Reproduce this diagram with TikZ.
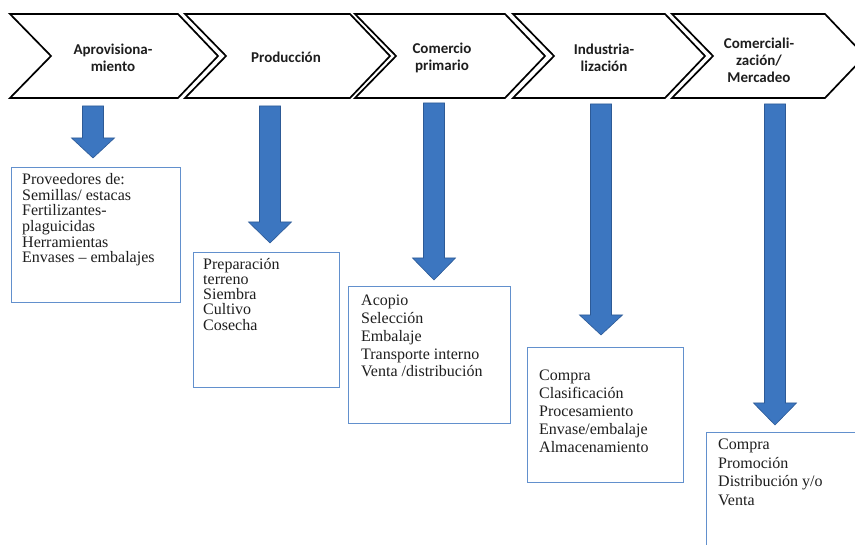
\documentclass[tikz,border=0pt]{standalone}
\usepackage{fontspec}
\setmainfont{Liberation Serif}
\newfontfamily\lblfont{Carlito}
\definecolor{arrowblue}{RGB}{60,118,192}
\definecolor{arrowedge}{RGB}{45,90,150}
\definecolor{boxblue}{RGB}{98,144,205}
\definecolor{txt}{RGB}{30,30,30}
\newcommand\chevronpath[2]{(#1,14) -- (#2,14) -- ({#2+40},56) -- (#2,98) -- (#1,98) -- ({#1+41},56) -- cycle}
\newcommand\bluearrow[4]{\draw[blockarrow] ({#1-10.5},#2) -- ({#1+10.5},#2) -- ({#1+10.5},#3) -- ({#1+21.5},#3) -- (#1,#4) -- ({#1-21.5},#3) -- ({#1-10.5},#3) -- cycle;}
\begin{document}
\begin{tikzpicture}[x=1pt,y=-1pt,
  chev/.style={draw=black, line width=1.7pt, line join=miter, fill=white},
  lab/.style={font=\lblfont\bfseries\fontsize{15}{17}\selectfont, align=center, inner sep=0, text=txt},
  boxframe/.style={draw=boxblue, line width=1.4pt, fill=white, inner sep=0, anchor=north west},
  boxtext/.style={align=left, inner sep=0, anchor=north west, text=txt},
  blockarrow/.style={fill=arrowblue, draw=arrowedge, line width=0.6pt, line join=miter}]
\useasboundingbox (0,0) rectangle (855,545);
\clip (0,0) rectangle (855,545);
\fill[white] (0,0) rectangle (855,545);
% chevrons
\draw[chev] \chevronpath{10}{178};
\draw[chev] \chevronpath{185}{350};
\draw[chev] \chevronpath{355}{505};
\draw[chev] \chevronpath{513}{665};
\draw[chev] \chevronpath{672}{825};
\node[lab] (c1) at (113,58) {Aprovisiona-\\miento};
\node[lab] (c2) at (286,57) {Producción};
\node[lab] (c3) at (442,58) {Comercio\\primario};
\node[lab] (c4) at (604,58) {Industria-\\lización};
\node[lab] (c5) at (759,60) {Comerciali-\\zación/\\Mercadeo};
% arrows
\bluearrow{93}{106}{138}{158}
\bluearrow{270}{106}{222}{243}
\bluearrow{434}{103}{258}{280}
\bluearrow{601}{104}{315}{335}
\bluearrow{775}{104}{403}{425}
% boxes
\node[boxframe, minimum width=169pt, minimum height=135pt] (b1) at (11,167) {};
\node[boxframe, minimum width=146pt, minimum height=135pt] (b2) at (193,252) {};
\node[boxframe, minimum width=162pt, minimum height=137pt] (b3) at (348,286) {};
\node[boxframe, minimum width=156pt, minimum height=135pt] (b4) at (527,347) {};
\node[boxframe, minimum width=170pt, minimum height=140pt] (b5) at (706,432) {};
\node[boxtext, font=\fontsize{16}{15.7}\selectfont] (t1) at (22,173) {Proveedores de:\\Semillas/ estacas\\Fertilizantes-\\plaguicidas\\Herramientas\\Envases -- embalajes};
\node[boxtext, font=\fontsize{16}{15.2}\selectfont] (t2) at (203,258) {Preparación\\terreno\\Siembra\\Cultivo\\Cosecha};
\node[boxtext, font=\fontsize{16}{17.8}\selectfont] (t3) at (361,295) {Acopio\\Selección\\Embalaje\\Transporte interno\\Venta /distribución};
\node[boxtext, font=\fontsize{16}{18}\selectfont] (t4) at (539,370) {Compra\\Clasificación\\Procesamiento\\Envase/embalaje\\Almacenamiento};
\node[boxtext, font=\fontsize{16}{18.5}\selectfont] (t5) at (718,439) {Compra\\Promoción\\Distribución y/o\\Venta};
\end{tikzpicture}
\end{document}
